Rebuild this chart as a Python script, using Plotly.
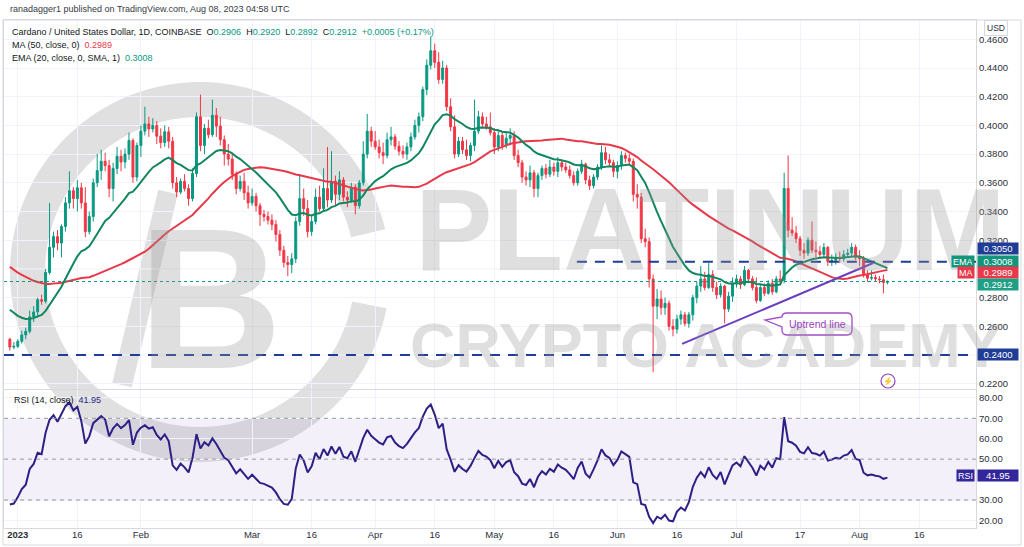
import numpy as np
import pandas as pd
import plotly.graph_objects as go
from plotly.subplots import make_subplots

# ---------------- data ----------------
start_date = "2022-12-30"
end_date = "2023-08-08"

# closes before the visible window, only used to warm up MA / EMA / RSI
warmup_start = "2022-11-01"
warmup_close = [
    0.407, 0.393, 0.395, 0.424, 0.424, 0.404, 0.389, 0.345, 0.307, 0.370,
    0.355, 0.344, 0.327, 0.334, 0.338, 0.330, 0.322, 0.323, 0.325, 0.311,
    0.299, 0.311, 0.319, 0.320, 0.321, 0.317, 0.317, 0.308, 0.316, 0.318,
    0.313, 0.314, 0.307, 0.318, 0.313, 0.315, 0.305, 0.318, 0.312, 0.313,
    0.312, 0.314, 0.317, 0.314, 0.293, 0.270, 0.276, 0.275, 0.262, 0.274,
    0.265, 0.262, 0.262, 0.265, 0.262, 0.263, 0.258, 0.248, 0.251,
]

opens = [
    0.2510, 0.2455,
    0.2460, 0.2495, 0.2540, 0.2565, 0.2665, 0.2700, 0.2785, 0.2775, 0.2975, 0.3150, 0.3225, 0.3180, 0.3295, 0.3460, 0.3545, 0.3490, 0.3565, 0.3460, 0.3260, 0.3365, 0.3600, 0.3685, 0.3750, 0.3720, 0.3560, 0.3700, 0.3785, 0.3745, 0.3800, 0.3895, 0.3640,
    0.3860, 0.3960, 0.4010, 0.3975, 0.4000, 0.3925, 0.3880, 0.3955, 0.3890, 0.3600, 0.3535, 0.3610, 0.3560, 0.3490, 0.3665, 0.4060, 0.3860, 0.3980, 0.3935, 0.4070, 0.3995, 0.3900, 0.3800, 0.3765, 0.3660, 0.3560, 0.3610, 0.3530,
    0.3460, 0.3505, 0.3440, 0.3380, 0.3365, 0.3340, 0.3310, 0.3240, 0.3130, 0.3045, 0.3030, 0.3070, 0.3330, 0.3490, 0.3420, 0.3260, 0.3330, 0.3500, 0.3420, 0.3560, 0.3480, 0.3610, 0.3520, 0.3620, 0.3500, 0.3480, 0.3570, 0.3440, 0.3600, 0.3800, 0.3960,
    0.3890, 0.3850, 0.3810, 0.3790, 0.3900, 0.3920, 0.3855, 0.3820, 0.3800, 0.3850, 0.3920, 0.4000, 0.4060, 0.4250, 0.4420, 0.4520, 0.4440, 0.4320, 0.4400, 0.4130, 0.3990, 0.3800, 0.3890, 0.3830, 0.3790, 0.3860, 0.3960, 0.4060, 0.4010, 0.3990,
    0.3950, 0.3850, 0.3930, 0.3860, 0.3910, 0.3930, 0.3790, 0.3740, 0.3640, 0.3620, 0.3670, 0.3560, 0.3650, 0.3700, 0.3660, 0.3710, 0.3680, 0.3740, 0.3710, 0.3690, 0.3650, 0.3600, 0.3680, 0.3730, 0.3620, 0.3580, 0.3640, 0.3710, 0.3810, 0.3760, 0.3740,
    0.3680, 0.3720, 0.3790, 0.3770, 0.3750, 0.3520, 0.3500, 0.3210, 0.3190, 0.2930, 0.2740, 0.2790, 0.2730, 0.2760, 0.2600, 0.2580, 0.2650, 0.2680, 0.2620, 0.2680, 0.2800, 0.2880, 0.2930, 0.2870, 0.2960, 0.2870, 0.2820, 0.2880, 0.2720, 0.2810,
    0.2900, 0.2930, 0.2890, 0.2990, 0.2930, 0.2870, 0.2780, 0.2870, 0.2830, 0.2900, 0.2840, 0.2930, 0.2920, 0.3560, 0.3270, 0.3250, 0.3210, 0.3130, 0.3110, 0.3200, 0.3130, 0.3120, 0.3100, 0.3150, 0.3050, 0.3060, 0.3080, 0.3070, 0.3100, 0.3110, 0.3150,
    0.3080, 0.3070, 0.2960, 0.2935, 0.2940, 0.2930, 0.2925, 0.2906,
]
highs = [
    0.2520, 0.2490,
    0.2510, 0.2570, 0.2590, 0.2710, 0.2740, 0.2800, 0.2820, 0.3000, 0.3460, 0.3260, 0.3270, 0.3310, 0.3500, 0.3680, 0.3570, 0.3620, 0.3600, 0.3570, 0.3400, 0.3630, 0.3800, 0.3830, 0.3810, 0.3760, 0.3740, 0.3850, 0.3830, 0.3840, 0.3950, 0.3910, 0.3880,
    0.4000, 0.4130, 0.4060, 0.4050, 0.4030, 0.3980, 0.4000, 0.3990, 0.3920, 0.3640, 0.3630, 0.3660, 0.3590, 0.3700, 0.4090, 0.4215, 0.4010, 0.4040, 0.4180, 0.4120, 0.4060, 0.3930, 0.3870, 0.3800, 0.3680, 0.3650, 0.3670, 0.3580,
    0.3560, 0.3530, 0.3460, 0.3410, 0.3400, 0.3380, 0.3340, 0.3270, 0.3160, 0.3090, 0.3110, 0.3360, 0.3660, 0.3560, 0.3480, 0.3370, 0.3560, 0.3580, 0.3700, 0.3850, 0.3820, 0.3650, 0.3680, 0.3640, 0.3540, 0.3600, 0.3590, 0.3620, 0.3890, 0.4080, 0.3990,
    0.3960, 0.3900, 0.3880, 0.3950, 0.3990, 0.3940, 0.3890, 0.3860, 0.3880, 0.3950, 0.4040, 0.4090, 0.4270, 0.4460, 0.4620, 0.4570, 0.4510, 0.4450, 0.4420, 0.4190, 0.4070, 0.3920, 0.3920, 0.3900, 0.3880, 0.4180, 0.4100, 0.4090, 0.4060, 0.4090,
    0.3980, 0.3960, 0.3960, 0.3950, 0.3980, 0.3960, 0.3830, 0.3760, 0.3680, 0.3720, 0.3690, 0.3670, 0.3720, 0.3730, 0.3760, 0.3740, 0.3780, 0.3760, 0.3740, 0.3720, 0.3680, 0.3700, 0.3760, 0.3740, 0.3650, 0.3660, 0.3730, 0.3860, 0.3850, 0.3800, 0.3760,
    0.3750, 0.3820, 0.3810, 0.3800, 0.3770, 0.3590, 0.3530, 0.3280, 0.3220, 0.2960, 0.2860, 0.2850, 0.2800, 0.2780, 0.2650, 0.2680, 0.2710, 0.2700, 0.2700, 0.2820, 0.2910, 0.3020, 0.2980, 0.3040, 0.2990, 0.2910, 0.2900, 0.2890, 0.2840, 0.2940,
    0.2960, 0.2950, 0.3020, 0.3000, 0.2950, 0.2940, 0.2890, 0.2900, 0.2920, 0.2930, 0.2950, 0.2990, 0.3670, 0.3790, 0.3360, 0.3300, 0.3230, 0.3180, 0.3220, 0.3330, 0.3190, 0.3160, 0.3180, 0.3160, 0.3100, 0.3110, 0.3120, 0.3130, 0.3140, 0.3180, 0.3170,
    0.3130, 0.3090, 0.2990, 0.2990, 0.2960, 0.2950, 0.2960, 0.2920,
]
lows = [
    0.2430, 0.2440,
    0.2450, 0.2480, 0.2510, 0.2550, 0.2630, 0.2660, 0.2750, 0.2760, 0.2960, 0.3080, 0.3130, 0.3080, 0.3260, 0.3420, 0.3420, 0.3400, 0.3420, 0.3220, 0.3240, 0.3330, 0.3570, 0.3620, 0.3680, 0.3500, 0.3470, 0.3660, 0.3680, 0.3700, 0.3760, 0.3600, 0.3610,
    0.3780, 0.3930, 0.3920, 0.3950, 0.3870, 0.3840, 0.3850, 0.3840, 0.3560, 0.3500, 0.3520, 0.3540, 0.3440, 0.3470, 0.3640, 0.3820, 0.3800, 0.3910, 0.3920, 0.3920, 0.3860, 0.3720, 0.3720, 0.3620, 0.3520, 0.3540, 0.3480, 0.3420,
    0.3440, 0.3400, 0.3300, 0.3330, 0.3310, 0.3270, 0.3190, 0.3090, 0.3010, 0.2950, 0.2970, 0.3040, 0.3300, 0.3370, 0.3220, 0.3230, 0.3310, 0.3400, 0.3400, 0.3430, 0.3460, 0.3440, 0.3480, 0.3470, 0.3430, 0.3460, 0.3380, 0.3420, 0.3580, 0.3770, 0.3850,
    0.3830, 0.3770, 0.3730, 0.3770, 0.3860, 0.3830, 0.3790, 0.3770, 0.3760, 0.3820, 0.3900, 0.3950, 0.4030, 0.4210, 0.4390, 0.4400, 0.4290, 0.4290, 0.4100, 0.3960, 0.3770, 0.3780, 0.3800, 0.3760, 0.3750, 0.3820, 0.3940, 0.3980, 0.3970, 0.3930,
    0.3800, 0.3820, 0.3830, 0.3840, 0.3860, 0.3760, 0.3710, 0.3600, 0.3580, 0.3570, 0.3500, 0.3500, 0.3620, 0.3630, 0.3640, 0.3650, 0.3640, 0.3680, 0.3670, 0.3630, 0.3580, 0.3580, 0.3660, 0.3590, 0.3550, 0.3560, 0.3620, 0.3690, 0.3730, 0.3710, 0.3640,
    0.3630, 0.3690, 0.3740, 0.3720, 0.3470, 0.3420, 0.3180, 0.3150, 0.2870, 0.2280, 0.2650, 0.2680, 0.2680, 0.2570, 0.2530, 0.2550, 0.2610, 0.2600, 0.2590, 0.2640, 0.2760, 0.2840, 0.2850, 0.2860, 0.2840, 0.2790, 0.2800, 0.2620, 0.2700, 0.2770,
    0.2870, 0.2860, 0.2880, 0.2910, 0.2850, 0.2760, 0.2770, 0.2810, 0.2820, 0.2820, 0.2830, 0.2890, 0.2900, 0.3220, 0.3230, 0.3180, 0.3090, 0.3070, 0.3090, 0.3110, 0.3080, 0.3070, 0.3080, 0.3020, 0.3020, 0.3030, 0.3040, 0.3050, 0.3080, 0.3090, 0.3060,
    0.3020, 0.2940, 0.2910, 0.2920, 0.2910, 0.2900, 0.2830, 0.2892,
]
closes = [
    0.2455, 0.2460,
    0.2495, 0.2540, 0.2565, 0.2665, 0.2700, 0.2785, 0.2775, 0.2975, 0.3150, 0.3225, 0.3180, 0.3295, 0.3460, 0.3545, 0.3490, 0.3565, 0.3460, 0.3260, 0.3365, 0.3600, 0.3685, 0.3750, 0.3720, 0.3560, 0.3700, 0.3785, 0.3745, 0.3800, 0.3895, 0.3640, 0.3860,
    0.3960, 0.4010, 0.3975, 0.4000, 0.3925, 0.3880, 0.3955, 0.3890, 0.3600, 0.3535, 0.3610, 0.3560, 0.3490, 0.3665, 0.4060, 0.3860, 0.3980, 0.3935, 0.4070, 0.3995, 0.3900, 0.3800, 0.3765, 0.3660, 0.3560, 0.3610, 0.3530, 0.3460,
    0.3505, 0.3440, 0.3380, 0.3365, 0.3340, 0.3310, 0.3240, 0.3130, 0.3045, 0.3030, 0.3070, 0.3330, 0.3490, 0.3420, 0.3260, 0.3330, 0.3500, 0.3420, 0.3560, 0.3480, 0.3610, 0.3520, 0.3620, 0.3500, 0.3480, 0.3570, 0.3440, 0.3600, 0.3800, 0.3960, 0.3890,
    0.3850, 0.3810, 0.3790, 0.3900, 0.3920, 0.3855, 0.3820, 0.3800, 0.3850, 0.3920, 0.4000, 0.4060, 0.4250, 0.4420, 0.4520, 0.4440, 0.4320, 0.4400, 0.4130, 0.3990, 0.3800, 0.3890, 0.3830, 0.3790, 0.3860, 0.3960, 0.4060, 0.4010, 0.3990, 0.3950,
    0.3850, 0.3930, 0.3860, 0.3910, 0.3930, 0.3790, 0.3740, 0.3640, 0.3620, 0.3670, 0.3560, 0.3650, 0.3700, 0.3660, 0.3710, 0.3680, 0.3740, 0.3710, 0.3690, 0.3650, 0.3600, 0.3680, 0.3730, 0.3620, 0.3580, 0.3640, 0.3710, 0.3810, 0.3760, 0.3740, 0.3680,
    0.3720, 0.3790, 0.3770, 0.3750, 0.3520, 0.3500, 0.3210, 0.3190, 0.2930, 0.2740, 0.2790, 0.2730, 0.2760, 0.2600, 0.2580, 0.2650, 0.2680, 0.2620, 0.2680, 0.2800, 0.2880, 0.2930, 0.2870, 0.2960, 0.2870, 0.2820, 0.2880, 0.2720, 0.2810, 0.2900,
    0.2930, 0.2890, 0.2990, 0.2930, 0.2870, 0.2780, 0.2870, 0.2830, 0.2900, 0.2840, 0.2930, 0.2920, 0.3560, 0.3270, 0.3250, 0.3210, 0.3130, 0.3110, 0.3200, 0.3130, 0.3120, 0.3100, 0.3150, 0.3050, 0.3060, 0.3080, 0.3070, 0.3100, 0.3110, 0.3150, 0.3080,
    0.3070, 0.2960, 0.2935, 0.2940, 0.2930, 0.2925, 0.2906, 0.2912,
]

ma_len, ema_len, rsi_len = 50, 20, 14

tick_dates = ["2023-01-01", "2023-01-16", "2023-02-01", "2023-03-01", "2023-03-16", "2023-04-01",
              "2023-04-16", "2023-05-01", "2023-05-16", "2023-06-01", "2023-06-16", "2023-07-01",
              "2023-07-17", "2023-08-01", "2023-08-16"]
tick_text = ["<b>2023</b>", "16", "Feb", "Mar", "16", "Apr", "16", "May", "16", "Jun", "16", "Jul",
             "17", "Aug", "16"]
# price scale labels that are not hidden behind the value tags
price_ticks = [0.22, 0.26, 0.28, 0.32, 0.34, 0.36, 0.38, 0.40, 0.42, 0.44, 0.46]
rsi_ticks = [20, 30, 50, 60, 70, 80]

support_level = 0.2400
resistance_level = 0.3050
resistance_start = "2023-05-21 19:00"
last_price = 0.2912
ma_last = 0.2989
ema_last = 0.3008
rsi_last = 41.95
trend_x = ["2023-06-17 07:00", "2023-08-04 09:30"]
trend_y = [0.2477, 0.3041]

x_range = ["2022-12-28 12:37", "2023-08-30 07:26"]
price_range = [0.2163, 0.47345]
rsi_range = [16.29, 83.86]

# ---------------- indicators ----------------
all_close = pd.Series(warmup_close + closes,
                      index=pd.date_range(warmup_start, end_date, freq="D"))
ma = all_close.rolling(ma_len).mean()
ema = all_close.ewm(span=ema_len, adjust=False).mean()
delta = all_close.diff().iloc[1:]
up_avg = delta.clip(lower=0).ewm(alpha=1 / rsi_len, adjust=False).mean()
dn_avg = (-delta.clip(upper=0)).ewm(alpha=1 / rsi_len, adjust=False).mean()
rsi = 100 - 100 / (1 + up_avg / dn_avg)

dates = pd.date_range(start_date, end_date, freq="D")
ma_v = ma.loc[start_date:]
ema_v = ema.loc[start_date:]
rsi_v = rsi.loc[start_date:]

# ---------------- styling ----------------
W, H = 1024, 547
ML, MR, MT, MB = 4, 48, 20, 19
PW, PH = W - ML - MR, H - MT - MB


def px(x):
    return (x - ML) / PW


def py(y):
    return (H - MB - y) / PH


FONT = "Liberation Sans, Arial, sans-serif"
WMFONT = "Liberation Sans, Arial, sans-serif"
UP, DOWN = "#089981", "#F23645"
MA_C, EMA_C, RSI_C = "#E8394A", "#12875F", "#2C1F85"
LEVEL_C = "#1F3C96"
GRID, BORDER = "#F0F3FA", "#D6D9E0"
TXT = "#2A2E39"
WM = "rgba(150,150,150,0.30)"
WM_SOLID = "#E0E0E0"

fig = make_subplots(rows=2, cols=1, shared_xaxes=True, vertical_spacing=0.0)

fig.add_trace(go.Candlestick(
    x=dates, open=opens, high=highs, low=lows, close=closes,
    increasing=dict(line=dict(color=UP, width=1), fillcolor=UP),
    decreasing=dict(line=dict(color=DOWN, width=1), fillcolor=DOWN),
    whiskerwidth=0, hoverinfo="skip", showlegend=False), row=1, col=1)
fig.add_trace(go.Scatter(x=dates, y=ma_v.values, mode="lines",
                         line=dict(color=MA_C, width=2), hoverinfo="skip"), row=1, col=1)
fig.add_trace(go.Scatter(x=dates, y=ema_v.values, mode="lines",
                         line=dict(color=EMA_C, width=2), hoverinfo="skip"), row=1, col=1)
fig.add_trace(go.Scatter(x=dates, y=rsi_v.values, mode="lines",
                         line=dict(color=RSI_C, width=2), hoverinfo="skip"), row=2, col=1)

fig.update_layout(
    width=W, height=H, margin=dict(l=ML, r=MR, t=MT, b=MB, autoexpand=False),
    paper_bgcolor="white", plot_bgcolor="white", showlegend=False,
    font=dict(family=FONT, size=9, color=TXT),
)
fig.update_xaxes(range=x_range, tickvals=tick_dates, ticktext=tick_text, showgrid=True,
                 gridcolor=GRID, gridwidth=1, showline=True, linecolor=BORDER, mirror=True,
                 ticks="", zeroline=False, rangeslider_visible=False, automargin=False)
fig.update_xaxes(showticklabels=False, row=1, col=1)
fig.update_xaxes(showticklabels=True, tickfont=dict(size=9.5, color=TXT),
                 ticklabelstandoff=-2, row=2, col=1)
fig.update_yaxes(side="right", showgrid=True, gridcolor=GRID, showline=True, linecolor=BORDER,
                 mirror=True, ticks="", zeroline=False, tickfont=dict(size=9.5, color=TXT),
                 ticklabelstandoff=0, automargin=False)
fig.update_yaxes(range=price_range, tickvals=price_ticks, tickformat=".4f", row=1, col=1)
fig.update_yaxes(range=rsi_range, tickvals=rsi_ticks, tickformat=".2f", row=2, col=1)
fig.layout.yaxis.domain = [py(389), 1.0]
fig.layout.yaxis2.domain = [0.0, py(390)]

shapes = []
# watermark ring (logo)
cx, cy, r_out, r_in = 200, 272, 190, 155
angs = np.radians(np.linspace(13, 349, 120))
outer = [(cx + r_out * np.cos(a), cy - r_out * np.sin(a)) for a in angs]
inner = [(cx + r_in * np.cos(a), cy - r_in * np.sin(a)) for a in angs[::-1]]
ring = "M " + " L ".join(f"{px(x):.5f},{py(y):.5f}" for x, y in outer + inner) + " Z"
shapes.append(dict(type="path", path=ring, xref="paper", yref="paper", fillcolor=WM_SOLID,
                   line=dict(width=0), layer="below"))
shapes.append(dict(type="line", xref="paper", yref="paper", x0=px(122), y0=py(385), x1=px(168),
                   y1=py(192), line=dict(color=WM_SOLID, width=20), layer="below"))
# faint grid lines behind the hidden labels
for gl in (0.24, 0.30):
    shapes.append(dict(type="line", xref="x domain", yref="y", x0=0, x1=1, y0=gl, y1=gl,
                       line=dict(color=GRID, width=1), layer="below"))
# RSI band + levels
shapes.append(dict(type="rect", xref="x2 domain", yref="y2", x0=0, x1=1, y0=30, y1=70,
                   fillcolor="rgba(126,87,194,0.09)", line=dict(width=0), layer="below"))
for lv in (70, 50, 30):
    shapes.append(dict(type="line", xref="x2 domain", yref="y2", x0=0, x1=1, y0=lv, y1=lv,
                       line=dict(color="#9598A1", width=1, dash="4px,4px")))
# horizontal levels
shapes.append(dict(type="line", xref="x domain", yref="y", x0=0, x1=1, y0=last_price,
                   y1=last_price, line=dict(color=UP, width=1, dash="dot")))
shapes.append(dict(type="line", xref="x domain", yref="y", x0=0, x1=1, y0=support_level,
                   y1=support_level, line=dict(color=LEVEL_C, width=2, dash="10px,8px")))
shapes.append(dict(type="line", xref="x", yref="y", x0=resistance_start, x1=x_range[1],
                   y0=resistance_level, y1=resistance_level,
                   line=dict(color=LEVEL_C, width=2, dash="10px,8px")))
# uptrend line
shapes.append(dict(type="line", xref="x", yref="y", x0=trend_x[0], x1=trend_x[1], y0=trend_y[0],
                   y1=trend_y[1], line=dict(color="#6A3DC0", width=2)))


def P(x, y):
    return f"{px(x):.5f},{py(y):.5f}"


# callout bubble
bubble = (f"M {P(787,313)} L {P(847,313)} Q {P(852,313)} {P(852,318)} L {P(852,330)} "
          f"Q {P(852,335)} {P(847,335)} L {P(787,335)} Q {P(782,335)} {P(782,330)} "
          f"L {P(782,327)} L {P(765,320)} L {P(782,317)} Q {P(782,313)} {P(787,313)} Z")
shapes.append(dict(type="path", path=bubble, xref="paper", yref="paper", fillcolor="white",
                   line=dict(color="#A24BC9", width=1.3)))
# event marker circle
shapes.append(dict(type="circle", xref="paper", yref="paper", x0=px(881), x1=px(895),
                   y0=py(388), y1=py(374), line=dict(color="#8E44C0", width=1.2),
                   fillcolor="white"))
# outer frame
shapes.append(dict(type="rect", xref="paper", yref="paper", x0=px(3), x1=px(1021), y0=py(545),
                   y1=py(20), line=dict(color=BORDER, width=1)))
fig.update_layout(shapes=shapes)

ann = []
# watermark text
ann.append(dict(text="<b>PLATINUM</b>", xref="paper", yref="paper", x=px(413), y=py(230),
                showarrow=False, font=dict(family=WMFONT, size=116, color=WM),
                xanchor="left", yanchor="middle"))
ann.append(dict(text="<b>CRYPTO ACADEMY</b>", xref="paper", yref="paper", x=px(408), y=py(345),
                showarrow=False, font=dict(family=WMFONT, size=63, color=WM),
                xanchor="left", yanchor="middle"))
ann.append(dict(text="<b>B</b>", xref="paper", yref="paper", x=px(210), y=py(298),
                showarrow=False, font=dict(family=WMFONT, size=200, color=WM),
                xanchor="center", yanchor="middle"))

# header + legends
ann.append(dict(text="ranadagger1 published on TradingView.com, Aug 08, 2023 04:58 UTC",
                xref="paper", yref="paper", x=px(8), y=py(9), xanchor="left", yanchor="middle",
                showarrow=False, font=dict(size=9, color="#363A45")))
g = UP
ann.append(dict(text=("Cardano / United States Dollar, 1D, COINBASE  "
                      f"O<span style='color:{g}'>0.2906</span>  H<span style='color:{g}'>0.2920</span>  "
                      f"L<span style='color:{g}'>0.2892</span>  C<span style='color:{g}'>0.2912</span>  "
                      f"<span style='color:{g}'>+0.0005 (+0.17%)</span>"),
                xref="paper", yref="paper", x=px(10), y=py(32), xanchor="left", yanchor="middle",
                showarrow=False, font=dict(size=9, color="#131722")))
ann.append(dict(text=f"MA (50, close, 0)  <span style='color:{MA_C}'>0.2989</span>",
                xref="paper", yref="paper", x=px(10), y=py(45), xanchor="left", yanchor="middle",
                showarrow=False, font=dict(size=9, color="#131722")))
ann.append(dict(text=f"EMA (20, close, 0, SMA, 1)  <span style='color:{UP}'>0.3008</span>",
                xref="paper", yref="paper", x=px(10), y=py(58), xanchor="left", yanchor="middle",
                showarrow=False, font=dict(size=9, color="#131722")))
ann.append(dict(text=f"RSI (14, close)  <span style='color:{RSI_C}'>41.95</span>",
                xref="paper", yref="paper", x=px(12), y=py(400), xanchor="left", yanchor="middle",
                showarrow=False, font=dict(size=9, color="#131722")))
ann.append(dict(text="USD", xref="paper", yref="paper", x=px(996), y=py(28), xanchor="center",
                yanchor="middle", showarrow=False, font=dict(size=8.5, color=TXT),
                bgcolor="white", bordercolor=BORDER, borderwidth=1, borderpad=2))

# callout text + event marker
ann.append(dict(text="Uptrend line", xref="paper", yref="paper", x=px(817), y=py(324),
                xanchor="center", yanchor="middle", showarrow=False,
                font=dict(size=10.5, color="#9B3FC2")))
ann.append(dict(text="⚡", xref="paper", yref="paper", x=px(888), y=py(381), xanchor="center",
                yanchor="middle", showarrow=False, font=dict(size=8, color="#8E44C0")))


def value_box(text, yval, yref, color, yshift=0):
    return dict(text=text, xref="paper", yref=yref, x=1, y=yval, xanchor="left",
                yanchor="middle", xshift=1, yshift=yshift, showarrow=False, width=38, height=9,
                bgcolor=color, borderpad=1, font=dict(size=9.5, color="white"))


def name_box(text, yval, yref, color, yshift=0):
    return dict(text=text, xref="paper", yref=yref, x=1, y=yval, xanchor="right",
                yanchor="middle", xshift=-1, yshift=yshift, showarrow=False, height=9,
                bgcolor=color, borderpad=1, font=dict(size=9, color="white"))


ann.append(value_box("0.3050", resistance_level, "y", LEVEL_C, 13.5))
ann.append(name_box("EMA", ema_last, "y", "#12957A", 6.5))
ann.append(value_box("0.3008", ema_last, "y", "#12957A", 6.5))
ann.append(name_box("MA", ma_last, "y", MA_C, -2.5))
ann.append(value_box("0.2989", ma_last, "y", MA_C, -2.5))
ann.append(value_box("0.2912", last_price, "y", "#1FA086", -2.5))
ann.append(value_box("0.2400", support_level, "y", LEVEL_C))
ann.append(name_box("RSI", rsi_last, "y2", "#33259A"))
ann.append(value_box("41.95", rsi_last, "y2", "#33259A"))

fig.update_layout(annotations=ann)
fig.write_html("out.html", config={"displayModeBar": False},
               post_script="document.body.style.margin='0';")
